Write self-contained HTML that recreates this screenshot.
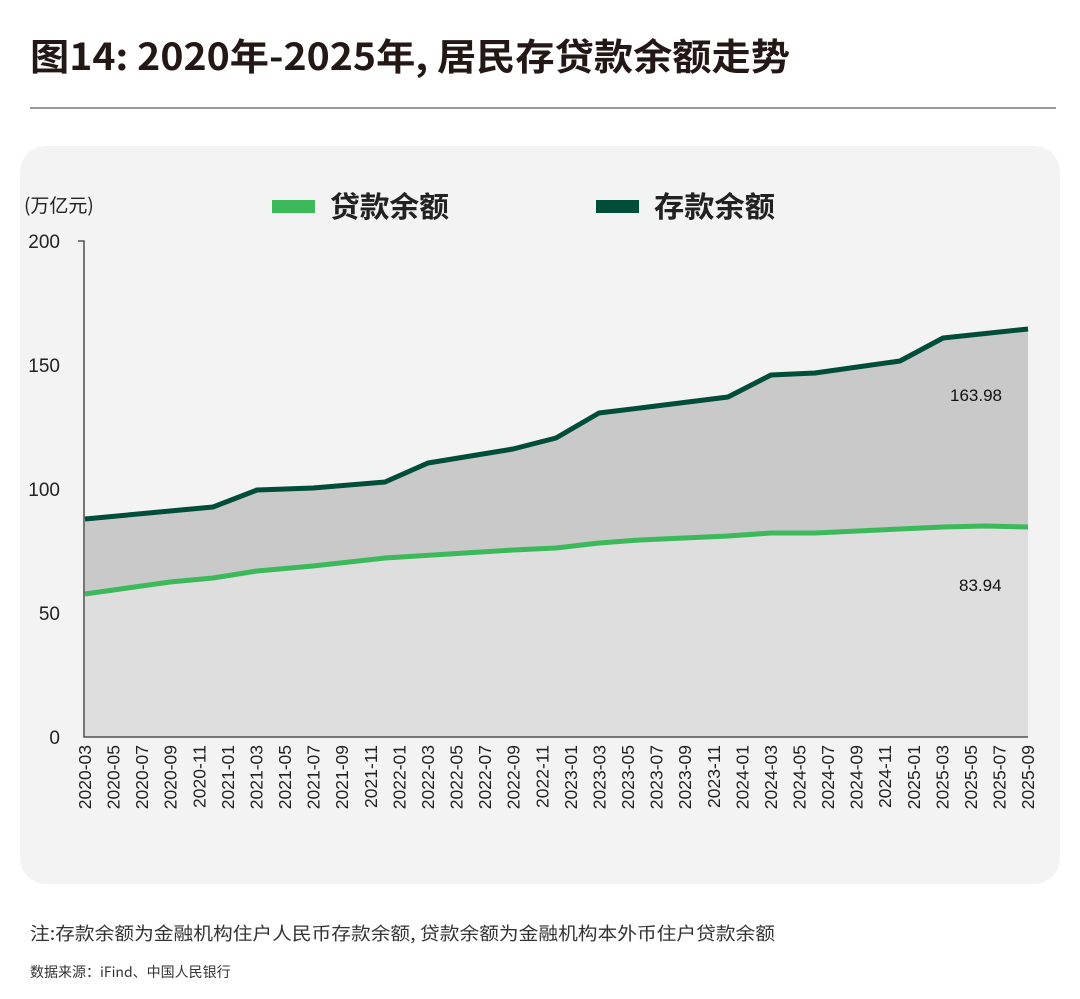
<!DOCTYPE html>
<html><head><meta charset="utf-8"><style>
body{margin:0;background:#fff;width:1080px;height:994px;overflow:hidden;font-family:"Liberation Sans","Noto Sans CJK SC",sans-serif;}
</style></head><body>
<svg width="1080" height="994" xmlns="http://www.w3.org/2000/svg" font-family="Liberation Sans, Noto Sans CJK SC, sans-serif">
<text x="30" y="70" font-size="37" font-weight="bold" fill="#231815" font-family="Noto Sans CJK SC, sans-serif" textLength="760" lengthAdjust="spacingAndGlyphs">图14: 2020年-2025年, 居民存贷款余额走势</text>
<line x1="30" y1="108" x2="1056" y2="108" stroke="#333" stroke-width="1"/>
<rect x="20" y="146" width="1040" height="738" rx="26" fill="#f3f3f3"/>
<text x="24" y="212" font-size="19" fill="#222" font-family="Noto Sans CJK SC, sans-serif">(万亿元)</text>
<rect x="272" y="200" width="43" height="13" fill="#3cb95a"/>
<text x="330" y="217" font-size="29" font-weight="bold" fill="#222" font-family="Noto Sans CJK SC, sans-serif" textLength="119" lengthAdjust="spacingAndGlyphs">贷款余额</text>
<rect x="596" y="200" width="43" height="13" fill="#004d3a"/>
<text x="654" y="217" font-size="29" font-weight="bold" fill="#222" font-family="Noto Sans CJK SC, sans-serif" textLength="121" lengthAdjust="spacingAndGlyphs">存款余额</text>
<g font-size="19" fill="#222" text-anchor="end">
<text x="60" y="248">200</text><text x="60" y="372">150</text><text x="60" y="496">100</text><text x="60" y="620">50</text><text x="60" y="744">0</text>
</g>
<polygon fill="#c9c9c9" points="85,519 170,511 213,507 257,490 313,488 385,482 428,463 513,449 556,438 599,413 640,408 728,397 771,375 815,373 900,361 943,338 1028,329 1028,737 85,737"/>
<polygon fill="#dedede" points="85,594 170,582 213,578 257,571 313,566 385,558 513,550 556,548 599,543 640,540 728,536 771,533 815,533 900,529 943,527 985,526 1028,527 1028,737 85,737"/>
<polyline fill="none" stroke="#004d3a" stroke-width="5" stroke-linejoin="round" points="85,519 170,511 213,507 257,490 313,488 385,482 428,463 513,449 556,438 599,413 640,408 728,397 771,375 815,373 900,361 943,338 1028,329"/>
<polyline fill="none" stroke="#3cb95a" stroke-width="5" stroke-linejoin="round" points="85,594 170,582 213,578 257,571 313,566 385,558 513,550 556,548 599,543 640,540 728,536 771,533 815,533 900,529 943,527 985,526 1028,527"/>
<polyline fill="none" stroke="#333" stroke-width="1.3" points="78,241 84,241 84,737 1028,737"/>
<text x="950" y="401" font-size="17" fill="#111">163.98</text>
<text x="959" y="591" font-size="17" fill="#111">83.94</text>
<g font-size="17.5" fill="#222" text-anchor="end">
<text transform="translate(91,745) rotate(-90)">2020-03</text>
<text transform="translate(119.6,745) rotate(-90)">2020-05</text>
<text transform="translate(148.2,745) rotate(-90)">2020-07</text>
<text transform="translate(176.7,745) rotate(-90)">2020-09</text>
<text transform="translate(205.3,745) rotate(-90)">2020-11</text>
<text transform="translate(233.9,745) rotate(-90)">2021-01</text>
<text transform="translate(262.5,745) rotate(-90)">2021-03</text>
<text transform="translate(291.1,745) rotate(-90)">2021-05</text>
<text transform="translate(319.6,745) rotate(-90)">2021-07</text>
<text transform="translate(348.2,745) rotate(-90)">2021-09</text>
<text transform="translate(376.8,745) rotate(-90)">2021-11</text>
<text transform="translate(405.4,745) rotate(-90)">2022-01</text>
<text transform="translate(434,745) rotate(-90)">2022-03</text>
<text transform="translate(462.5,745) rotate(-90)">2022-05</text>
<text transform="translate(491.1,745) rotate(-90)">2022-07</text>
<text transform="translate(519.7,745) rotate(-90)">2022-09</text>
<text transform="translate(548.3,745) rotate(-90)">2022-11</text>
<text transform="translate(576.9,745) rotate(-90)">2023-01</text>
<text transform="translate(605.4,745) rotate(-90)">2023-03</text>
<text transform="translate(634,745) rotate(-90)">2023-05</text>
<text transform="translate(662.6,745) rotate(-90)">2023-07</text>
<text transform="translate(691.2,745) rotate(-90)">2023-09</text>
<text transform="translate(719.8,745) rotate(-90)">2023-11</text>
<text transform="translate(748.3,745) rotate(-90)">2024-01</text>
<text transform="translate(776.9,745) rotate(-90)">2024-03</text>
<text transform="translate(805.5,745) rotate(-90)">2024-05</text>
<text transform="translate(834.1,745) rotate(-90)">2024-07</text>
<text transform="translate(862.7,745) rotate(-90)">2024-09</text>
<text transform="translate(891.2,745) rotate(-90)">2024-11</text>
<text transform="translate(919.8,745) rotate(-90)">2025-01</text>
<text transform="translate(948.4,745) rotate(-90)">2025-03</text>
<text transform="translate(977,745) rotate(-90)">2025-05</text>
<text transform="translate(1005.6,745) rotate(-90)">2025-07</text>
<text transform="translate(1034,745) rotate(-90)">2025-09</text>
</g>
<text x="30" y="940" font-size="18" fill="#333" font-family="Noto Sans CJK SC, sans-serif" textLength="745" lengthAdjust="spacingAndGlyphs">注:存款余额为金融机构住户人民币存款余额, 贷款余额为金融机构本外币住户贷款余额</text>
<text x="30" y="977" font-size="14" fill="#333" font-family="Noto Sans CJK SC, sans-serif">数据来源：iFind、中国人民银行</text>
</svg>
</body></html>
